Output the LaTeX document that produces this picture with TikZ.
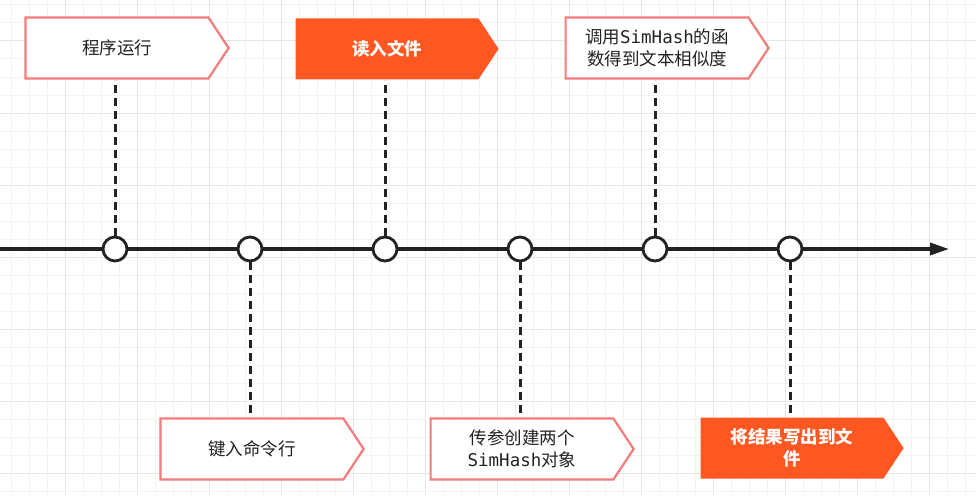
\documentclass[tikz,border=0pt]{standalone}
\usepackage{fontspec}
\setmainfont{Noto Sans CJK SC}
\newfontfamily\hashfont{DejaVu Sans Mono}
\usepackage{tikz}
\usetikzlibrary{arrows.meta,positioning,shapes.symbols}

\definecolor{gridminor}{HTML}{F3F3F3}
\definecolor{gridmajor}{HTML}{E6E6E6}
\definecolor{boxline}{HTML}{F47C7C}
\definecolor{boxfill}{HTML}{FF5722}
\definecolor{inkline}{HTML}{222222}
\definecolor{textgray}{HTML}{222222}

\newcommand{\sh}{{\hashfont SimHash}}

\begin{document}
\begin{tikzpicture}[
  x=1pt, y=-1pt,
  >={Triangle[length=19pt,width=12pt]},
  stage/.style={shape=signal, signal to=east, signal from=nowhere,
    signal pointer angle=113, minimum width=203pt, minimum height=61pt,
    inner sep=2pt, align=center, xshift=2pt, font=\fontsize{17.5}{22}\selectfont},
  plainstage/.style={stage, draw=boxline, line width=2.2pt, fill=white, text=textgray},
  hotstage/.style={stage, fill=boxfill, text=white, font=\fontsize{17.5}{22}\selectfont\bfseries},
  tick/.style={circle, draw=inkline, line width=2.8pt, fill=white, minimum size=24pt, inner sep=0pt},
  link/.style={draw=inkline, line width=3pt, dash pattern=on 8pt off 5pt},
]
\useasboundingbox (0,0) rectangle (976,495);
\fill[white] (0,0) rectangle (976,495);

% background grid
\foreach \x in {11,29,...,976} \draw[gridminor, line width=1pt] (\x,0) -- (\x,495);
\foreach \y in {5,23,...,495} \draw[gridminor, line width=1pt] (0,\y) -- (976,\y);
\foreach \x in {65,137,...,976} \draw[gridmajor, line width=1pt] (\x,0) -- (\x,495);
\foreach \y in {41,113,...,495} \draw[gridmajor, line width=1pt] (0,\y) -- (976,\y);

% timeline
\coordinate (start) at (0,249);
\coordinate (stop) at (949,249);
\draw[->, inkline, line width=3.5pt] (start) -- (stop);

% ticks on the timeline
\node[tick] (t1) at (115,249) {};
\node[tick] (t2) at (250,249) {};
\node[tick] (t3) at (385,249) {};
\node[tick] (t4) at (520,249) {};
\node[tick] (t5) at (655,249) {};
\node[tick] (t6) at (790,249) {};

% stages above
\node[plainstage, above=156pt of t1] (run) {程序运行};
\node[hotstage, above=156pt of t3] (read) {读入文件};
\node[plainstage, above=156pt of t5] (sim) {调用\sh 的函\\数得到文本相似度};

% stages below
\node[plainstage, below=155pt of t2] (cmd) {键入命令行};
\node[plainstage, below=155pt of t4] (make) {传参创建两个\\\sh 对象};
\node[hotstage, below=155pt of t6] (write) {将结果写出到文\\件};

% dashed links
\draw[link] (t1) -- (t1 |- run.south);
\draw[link] (t3) -- (t3 |- read.south);
\draw[link] (t5) -- (t5 |- sim.south);
\draw[link] (t2) -- (t2 |- cmd.north);
\draw[link] (t4) -- (t4 |- make.north);
\draw[link] (t6) -- (t6 |- write.north);
\end{tikzpicture}
\end{document}
